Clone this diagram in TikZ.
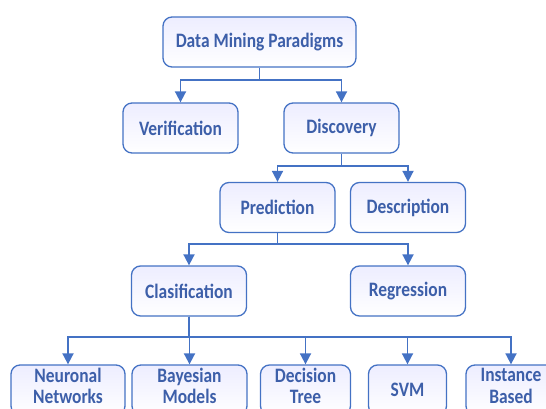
\documentclass[tikz,border=0pt]{standalone}
\usepackage{xcolor}
\usepackage{fontspec}
\setmainfont{Carlito}[FakeStretch=0.85]
\usepackage{tikz}
\usetikzlibrary{arrows.meta}

\definecolor{boxblue}{HTML}{4472C4}
\definecolor{textblue}{HTML}{3D5FA9}

\begin{document}
\begin{tikzpicture}[
    x=1pt, y=-1pt,
    box/.style={draw=boxblue, line width=1.3pt, rounded corners=9pt, top color=blue!7!white, bottom color=white,
        minimum width=115pt, minimum height=50pt, inner sep=0pt, align=center,
        font=\fontsize{20.5}{21.5}\selectfont\bfseries, text=textblue},
    leaf/.style={box, text depth=8pt},
    arrow/.style={-{Triangle[width=11pt,length=11pt]}, line width=1.8pt, draw=boxblue}
]
    \useasboundingbox (0,0) rectangle (546,409);
    \clip (0,0) rectangle (546,409);

    % Root
    \node[box, minimum width=193pt] (root) at (259.5,42) {Data Mining Paradigms};

    % Level 1
    \node[box] (verif) at (180.5,128) {Verification};
    \node[box] (disc) at (341.5,128) {Discovery};

    % Level 2
    \node[box] (pred) at (277.5,207.5) {Prediction};
    \node[box] (desc) at (408,207.5) {Description};

    % Level 3
    \node[box] (clas) at (189,291) {Clasification};
    \node[box] (regr) at (408,291) {Regression};

    % Methods
    \node[leaf, minimum width=114pt] (neur) at (68,390) {Neuronal\\Networks};
    \node[leaf] (bayes) at (189.5,390) {Bayesian\\Models};
    \node[leaf, minimum width=90pt] (tree) at (305.5,390) {Decision\\Tree};
    \node[box, minimum width=78pt] (svm) at (407.5,390) {SVM};
    \node[leaf, minimum width=90pt] (inst) at (511,390) {Instance\\Based};

    % Arrows
    \draw[arrow] (root.south) -- ++(0,12.5) -| (verif.north);
    \draw[arrow] (root.south) -- ++(0,12.5) -| (disc.north);
    \draw[arrow] (disc.south) -- ++(0,12) -| (pred.north);
    \draw[arrow] (disc.south) -- ++(0,12) -| (desc.north);
    \draw[arrow] (pred.south) -- ++(0,11) -| (clas.north);
    \draw[arrow] (pred.south) -- ++(0,11) -| (regr.north);
    \draw[arrow] (clas.south) -- ++(0,20) -| (neur.north);
    \draw[arrow] (clas.south) -- ++(0,20) -| (bayes.north);
    \draw[arrow] (clas.south) -- ++(0,20) -| (tree.north);
    \draw[arrow] (clas.south) -- ++(0,20) -| (svm.north);
    \draw[arrow] (clas.south) -- ++(0,20) -| (inst.north);
\end{tikzpicture}
\end{document}
